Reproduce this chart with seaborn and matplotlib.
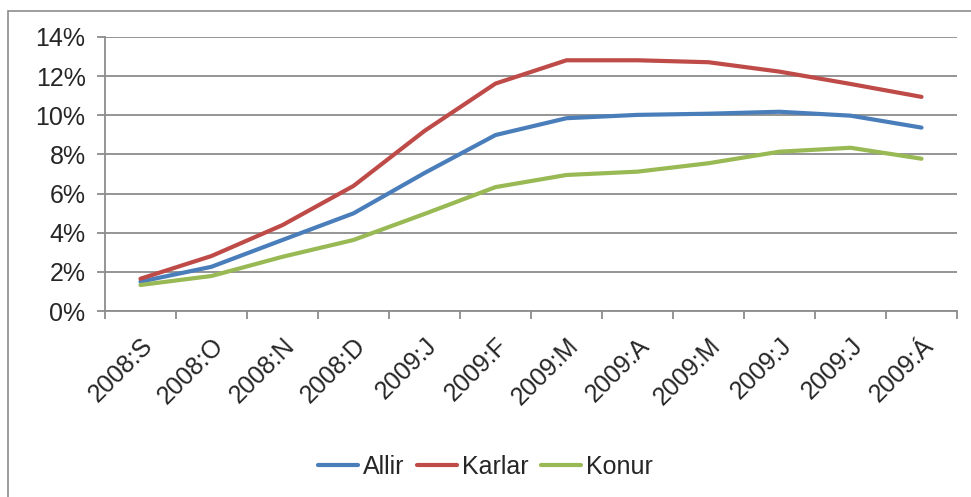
import pandas as pd
import matplotlib.pyplot as plt
import seaborn as sns
from matplotlib.patches import Rectangle
from matplotlib.ticker import FixedLocator, PercentFormatter

months = ["2008:S", "2008:O", "2008:N", "2008:D", "2009:J", "2009:F",
          "2009:M", "2009:A", "2009:M", "2009:J", "2009:J", "2009:Á"]
allir = [1.5, 2.26, 3.63, 4.99, 7.05, 8.99, 9.85, 10.02, 10.08, 10.18, 9.98, 9.37]
karlar = [1.65, 2.81, 4.39, 6.39, 9.2, 11.62, 12.81, 12.81, 12.71, 12.23, 11.6, 10.94]
konur = [1.33, 1.79, 2.77, 3.63, 4.96, 6.33, 6.95, 7.12, 7.55, 8.14, 8.34, 7.78]

series = {"Allir": allir, "Karlar": karlar, "Konur": konur}
colors = {"Allir": "#4A7EBB", "Karlar": "#BE4B48", "Konur": "#98B954"}

rows = []
for name, vals in series.items():
    for i, v in enumerate(vals):
        rows.append({"pos": i, "value": v, "series": name})
df = pd.DataFrame(rows)

sns.set_theme(style="white")
plt.rcParams["font.family"] = ["Liberation Sans", "DejaVu Sans"]

fig = plt.figure(figsize=(9.71, 4.97), dpi=100)
ax = fig.add_axes([0.1081, 0.3742, 0.8775, 0.5514])

# chart-area border like the spreadsheet export
fig.patches.append(Rectangle((8 / 971, -0.1), 1.2, 1.1 - 11 / 497, transform=fig.transFigure,
                             fill=False, edgecolor="#8c8c8c", linewidth=1.2))

sns.lineplot(data=df, x="pos", y="value", hue="series", palette=colors,
             linewidth=3, ax=ax, legend=True)

ax.set_xlim(-0.5, len(months) - 0.5)
ax.set_ylim(0, 14)
ax.set_yticks(range(0, 15, 2))
ax.yaxis.set_major_formatter(PercentFormatter(decimals=0))
ax.yaxis.grid(True, color="#8c8c8c", linewidth=1.3)
ax.xaxis.grid(False)

ax.set_xticks(range(len(months)))
ax.set_xticklabels(months, rotation=45, ha="right", rotation_mode="anchor")
ax.xaxis.set_minor_locator(FixedLocator([i - 0.5 for i in range(len(months) + 1)]))
ax.tick_params(axis="x", which="major", length=0, pad=16, labelsize=18)
ax.tick_params(axis="x", which="minor", length=6, width=1.3, color="#8c8c8c", bottom=True)
ax.tick_params(axis="y", length=6, width=1.3, color="#8c8c8c", left=True, pad=8, labelsize=18)

for side in ["top", "right"]:
    ax.spines[side].set_visible(False)
for side in ["left", "bottom"]:
    ax.spines[side].set_color("#8c8c8c")
    ax.spines[side].set_linewidth(1.3)

ax.set_xlabel("")
ax.set_ylabel("")

handles, labels = ax.get_legend_handles_labels()
ax.legend(handles, labels, loc="center", bbox_to_anchor=(0.5, 0.06),
          bbox_transform=fig.transFigure, ncol=3, frameon=False, fontsize=18,
          handlelength=1.6, handletextpad=0.2, columnspacing=0.5)

fig.savefig("out.png", dpi=100)
